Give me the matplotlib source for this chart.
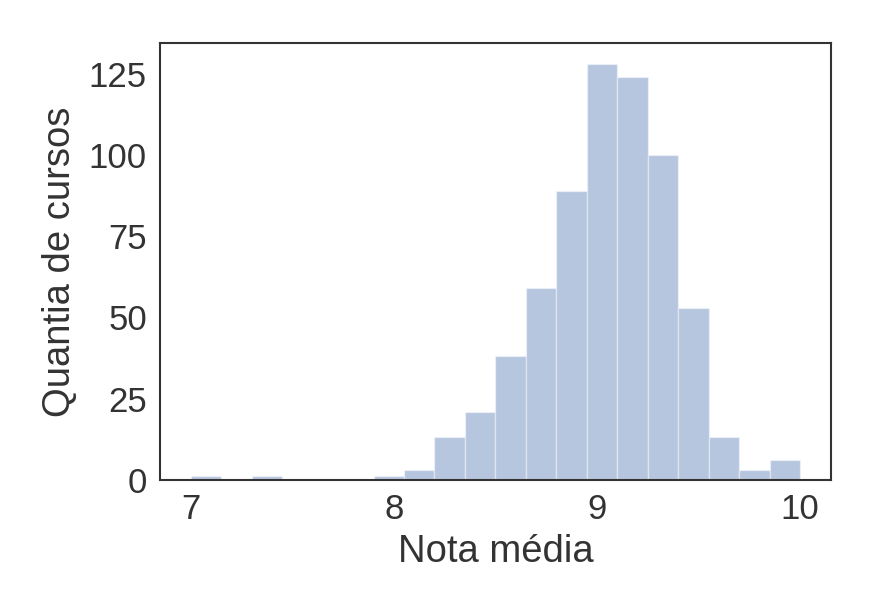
import numpy as np
import matplotlib
matplotlib.use("Agg")
import matplotlib.pyplot as plt
import seaborn as sns

# histograma das notas médias (20 classes entre 7 e 10)
bordas = np.linspace(7, 10, 21)
contagens = [1, 0, 1, 0, 0, 0, 1, 3, 13, 21, 38, 59, 89, 128, 124, 100, 53, 13, 3, 6]

sns.set_style("white")
plt.rcParams['font.family'] = ['Liberation Sans', 'DejaVu Sans']

fig = plt.figure(figsize=(8.8, 6.08), dpi=100)
ax = fig.add_axes([0.182, 0.211, 0.762, 0.718])

larguras = np.diff(bordas)
ax.bar(bordas[:-1], contagens, width=larguras, align='edge',
       color='#4C72B0', alpha=0.4, edgecolor='white', linewidth=1)

ax.set_xticks([7, 8, 9, 10])
ax.set_yticks([0, 25, 50, 75, 100, 125])
ax.tick_params(labelsize=25, colors='#333333', pad=6)
ax.set_xlabel('Nota média', fontsize=27.5, color='#333333', labelpad=6)
ax.set_ylabel('Quantia de cursos', fontsize=27.5, color='#333333', labelpad=8)
for s in ax.spines.values():
    s.set_color('#333333')
    s.set_linewidth(1.5)

fig.savefig('out.png', dpi=100)
